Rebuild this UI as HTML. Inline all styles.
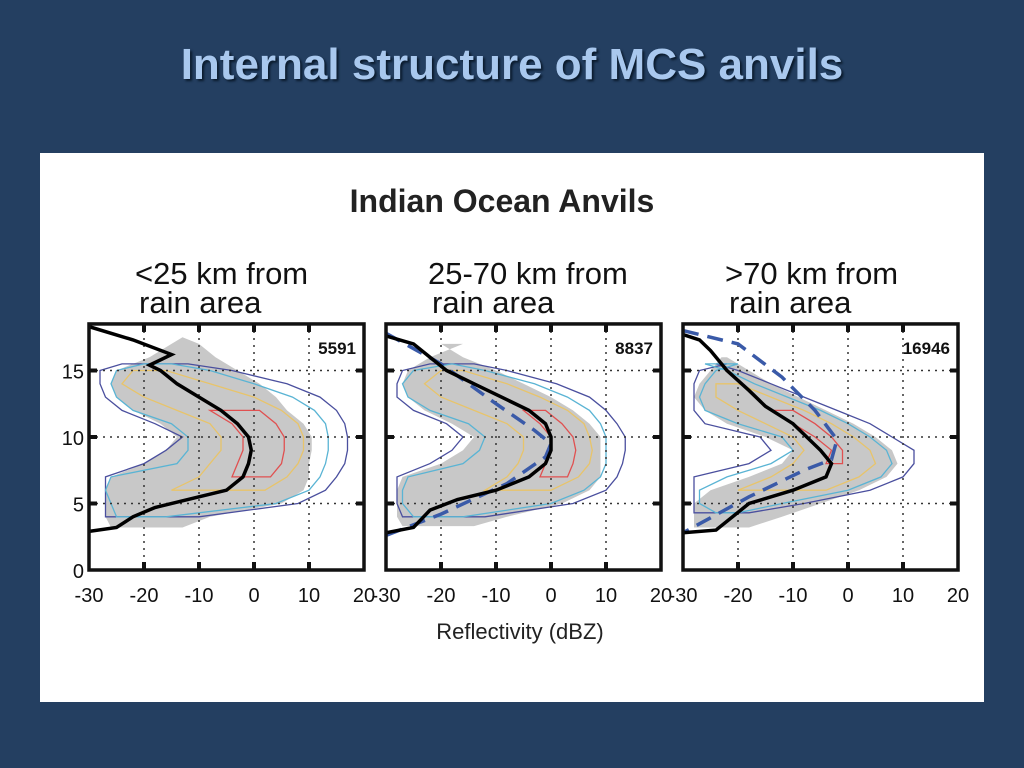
<!DOCTYPE html>
<html><head><meta charset="utf-8"><style>
body{margin:0;width:1024px;height:768px;background:#243f61;overflow:hidden;font-family:"Liberation Sans",sans-serif}
#title{position:absolute;left:0;width:1024px;top:40px;text-align:center;font-size:44px;font-weight:bold;color:#a9c8ee;text-shadow:2px 2px 2px #0a1a2c}
#card{position:absolute;left:40px;top:153px;width:944px;height:549px;background:#fff}
svg{position:absolute;left:0;top:0}
</style></head><body>
<div id="title">Internal structure of MCS anvils</div>
<div id="card"></div>
<svg id="s" width="1024" height="768"></svg>
<script>
// ---- data ----
const panelOffsets=[89,386,683];
const panelTitles1=["<25 km from","25-70 km from",">70 km from"];
const panelCounts=["5591","8837","16946"];
const xTicks=[-30,-20,-10,0,10,20];
const yTicks=[0,5,10,15];
const gridX=[-20,-10,0,10];
const gridY=[5,10,15];
// black profile curves (dBZ, km)
const blackX=[[-30,-25,-22,-18,-10,-5,-2,-1,-0.5,-1,-3,-6,-10,-14,-17,-19,-15,-22,-30],
 [-30,-25,-22,-17,-10,-4,-1,0,0,-1,-4,-9,-14,-19,-22,-25,-30],
 [-30,-24,-18,-10,-4,-3,-5,-10,-15,-18,-22,-25,-27,-30]];
const blackY=[[2.9,3.2,4,4.7,5.5,6,7,8,9,10,11,12,13,14,15,15.4,16.2,17.3,18.3],
 [2.8,3.2,4.5,5.3,6,7,8,9,10,11,12,13,14,15,16,17,17.6],
 [2.8,3,5,6,7,8,9,11,12.3,13.5,15,16.5,17.3,17.7]];
// dashed mean curves
const dashX=[[],[-30,-20,-10,-3,0,-1,-8,-20,-30],[-30,-20,-12,-6,-2,-3,-8,-18,-30]];
const dashY=[[],[17.8,15.5,12.5,10.5,9.5,8.5,6.5,4.2,2.6],[18,17,14.5,12,9.8,8.3,7.5,5.5,2.8]];
// gray frequency region: heights + left/right bounds
const grayH=[[3.2,4,5,6,7,8,9,10,11,12,13,14,15,16,17,17.5],
 [3.3,4,5,6,7,8,9,10,11,12,13,14,15,16,17],
 [3.2,4,5,6,7,8,9,10,11,12,13,14,15,16]];
const grayL=[[-26,-27,-27,-27,-26,-20,-16,-14,-17,-22,-25,-26,-25,-19,-15,-13],
 [-27,-28,-28,-28,-27,-20,-16,-14,-18,-23,-26,-27,-26,-22,-16],
 [-28,-28,-28,-25,-18,-12,-10,-15,-22,-26,-28,-27,-25,-23]];
const grayR=[[-13,-8,5,9,10,10,10.5,10.5,9,6,4,1,-3,-7,-10,-13],
 [-14,-8,2,7,9,9,9,9,7,4,0,-5,-10,-16,-20],
 [-18,-12,-5,2,7,9,8,5,1,-4,-9,-14,-18,-22]];
// contour levels: [panel][level] heights, left, right
const contH=[[4,5,6,7,8,9,10,11,12,13,14,15,15.5],[4,5,6,7,8,9,10,11,12,13,14,15,15.5],[4.3,5,6,7,8,9,10,11,12,13,14,15,15.5]];
const contL=[
 [[-27,-27,-27,-27,-20,-16,-13,-18,-24,-27,-28,-28,-24],[-25,-26,-27,-26,-14,-12,-12,-15,-22,-25,-26,-25,-20],[null,null,-15,-10,-8,-6,-6,-8,-14,-20,-24,-22,null],[null,null,null,-4,-3,-2,-2,-4,-8,null,null,null,null]],
 [[-27,-28,-28,-28,-22,-18,-16,-19,-25,-28,-28,-27,-22],[-25,-27,-27,-26,-16,-13,-12,-15,-22,-26,-27,-25,-18],[null,null,-12,-8,-6,-5,-5,-8,-14,-20,-23,-20,null],[null,null,null,-2,-1,0,0,-2,-5,null,null,null,null]],
 [[-28,-28,-28,-28,-18,-14,-16,-26,-28,-28,-28,-27,-22],[-24,-27,-27,-22,-14,-10,-12,-20,-26,-27,-26,-24,-20],[null,null,-20,-14,-10,-8,-10,-15,-20,-24,-24,null,null],[null,null,null,null,-4,-3,-6,-10,-14,null,null,null,null]]];
const contR=[
 [[-10,8,13,15,16.5,17,17,16.5,15,12,6,-4,-12],[-16,4,10,12,13,13.5,13.5,13,11,7,0,-8,-15],[null,null,2,6,8,9,9,8,5,0,-8,-16,null],[null,null,null,3,5,5.5,5.5,4,1,null,null,null,null]],
 [[-12,4,10,12,13,13.5,13.5,12,10,7,1,-8,-14],[-16,0,6,9,10,10,10,9,7,3,-3,-12,-18],[null,null,0,5,7,7.5,7,6,3,-2,-8,-16,null],[null,null,null,3,4,4.5,4,2,-1,null,null,null,null]],
 [[-18,-8,4,10,12,12,8,4,-2,-8,-14,-20,-24],[-20,-12,0,6,8,7,4,0,-5,-11,-17,-22,-26],[null,null,-4,2,5,4,1,-3,-8,-14,-20,null,null],[null,null,null,null,-1,-1,-3,-6,-10,null,null,null,null]]];
const levelColors=["#4a4f9e","#5ab4d4","#e8c46a","#e05050"];
// ---- axes ----
const YB=570,KY=13.3,KX=5.5;
const sx=(p,v)=>panelOffsets[p]+(v+30)*KX;
const sy=v=>YB-v*KY;
const NS="http://www.w3.org/2000/svg";
const svg=document.getElementById('s');
function mk(tag,attrs,name,parent){const e=document.createElementNS(NS,tag);for(const k in attrs)e.setAttribute(k,attrs[k]);


(parent||svg).appendChild(e);return e;}
function txt(x,y,s,name,extra){const t=mk('text',Object.assign({x:x,y:y,'font-family':'Liberation Sans, sans-serif'},extra),name);t.textContent=s;return t;}
txt(502,212,"Indian Ocean Anvils","figure-title",{'font-size':32,'font-weight':'bold','text-anchor':'middle',fill:'#222'});
txt(520,639,"Reflectivity (dBZ)","x-axis-title",{'font-size':22,'text-anchor':'middle',fill:'#222'});
function band(p,H,L,R,attrs,name){let a=[],b=[];for(let i=0;i<H.length;i++){if(L[i]==null)continue;a.push(sx(p,L[i])+','+sy(H[i]));b.unshift(sx(p,R[i])+','+sy(H[i]));}
return mk('polygon',Object.assign({points:a.concat(b).join(' ')},attrs),name);}
function line(p,X,Y,attrs,name){return mk('polyline',Object.assign({points:X.map((x,i)=>sx(p,x)+','+sy(Y[i])).join(' '),fill:'none'},attrs),name);}
for(let p=0;p<3;p++){
 const x0=sx(p,-30),x1=sx(p,20),yT=sy(18.5);
 const tx=[135,428,725][p];
 txt(tx,284,panelTitles1[p],'panel-title-'+(p+1),{'font-size':31,fill:'#111'});
 txt(tx+4,313,"rain area",'panel-subtitle-'+(p+1),{'font-size':31,fill:'#111'});
 const cp=mk('clipPath',{id:'c'+p},'clip-'+p);mk('rect',{x:x0,y:yT,width:x1-x0,height:YB-yT},'clip-rect',cp);
 const g=mk('g',{'clip-path':'url(#c'+p+')'},'panel-'+(p+1));
 g.appendChild(band(p,grayH[p],grayL[p],grayR[p],{fill:'#c8c8c8'},'gray-region'));
 for(let l=0;l<4;l++){g.appendChild(band(p,contH[p],contL[p][l],contR[p][l],{fill:'none',stroke:levelColors[l],'stroke-width':1.3},'contour-level-'+(l+1)));}
 for(const v of gridX)g.appendChild(mk('line',{x1:sx(p,v),x2:sx(p,v),y1:yT,y2:YB,stroke:'#333','stroke-dasharray':'2,5','stroke-width':1.5},'grid-x'));
 for(const v of gridY)g.appendChild(mk('line',{x1:x0,x2:x1,y1:sy(v),y2:sy(v),stroke:'#333','stroke-dasharray':'2,5','stroke-width':1.5},'grid-y'));
 if(dashX[p].length)g.appendChild(line(p,dashX[p],dashY[p],{stroke:'#3a5aa8','stroke-width':3.5,'stroke-dasharray':'16,9'},'mean-dashed-profile'));
 g.appendChild(line(p,blackX[p],blackY[p],{stroke:'#000','stroke-width':3.5},'black-profile'));
 mk('rect',{x:x0,y:yT,width:x1-x0,height:YB-yT,fill:'none',stroke:'#111','stroke-width':3.5},'panel-frame');
 for(const v of gridX){mk('line',{x1:sx(p,v),x2:sx(p,v),y1:yT,y2:yT+8,stroke:'#111','stroke-width':4},'tick');mk('line',{x1:sx(p,v),x2:sx(p,v),y1:YB,y2:YB-8,stroke:'#111','stroke-width':4},'tick');}
 for(const v of gridY){mk('line',{x1:x0,x2:x0+8,y1:sy(v),y2:sy(v),stroke:'#111','stroke-width':4},'tick');mk('line',{x1:x1,x2:x1-8,y1:sy(v),y2:sy(v),stroke:'#111','stroke-width':4},'tick');}
 txt(x1-8,yT+30,panelCounts[p],'sample-count',{'font-size':17,'font-weight':'bold','text-anchor':'end',fill:'#111'});
 for(const v of xTicks)txt(sx(p,v),602,String(v),'x-tick-label',{'font-size':20,'text-anchor':'middle',fill:'#111'});
}
for(const v of yTicks)txt(84,sy(v)+8,String(v),'y-tick-label',{'font-size':20,'text-anchor':'end',fill:'#111'});
</script></body></html>
